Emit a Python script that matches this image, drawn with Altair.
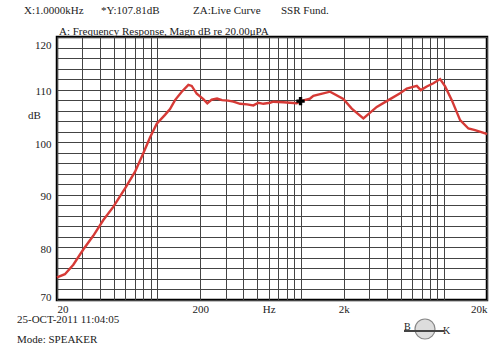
import altair as alt
import pandas as pd

# Frequency response
freq_hz = [20, 22.7, 26.0, 30.5, 35.8, 42.1, 49.4, 60.6, 70.1, 80.0, 89.1, 99.3,
           113.4, 122.9, 133.2, 148.4, 165.0, 174.2, 188.8, 209.9, 223.8, 240.2,
           261.7, 283.5, 312.2, 339.9, 378.5, 423.6, 468.9, 507.9, 550.4, 613,
           646, 759, 845, 941, 1000, 1166, 1229, 1607, 1990, 2278, 2746, 3404,
           4102, 4950, 5512, 6474, 6902, 7602, 8453, 9415, 10204, 11362, 12984,
           14836, 16520, 19398, 20000]
magn_db = [74.3, 74.9, 76.7, 79.6, 82.2, 85.2, 87.7, 91.5, 94.4, 97.9, 100.9, 103.5,
           105.2, 106.3, 108.0, 109.6, 110.9, 110.7, 109.2, 108.2, 107.4, 108.1,
           108.3, 108.0, 107.9, 107.7, 107.3, 107.2, 107.0, 107.5, 107.3, 107.5,
           107.7, 107.6, 107.5, 107.4, 107.8, 108.3, 108.8, 109.6, 108.2, 106.4,
           104.5, 106.7, 108.0, 109.3, 110.2, 110.7, 109.9, 110.6, 111.2, 112.0,
           110.6, 108.0, 104.2, 102.6, 102.3, 101.7, 101.5]

cursor_hz = [1000]
cursor_db = [107.81]

x_grid = [20, 30, 40, 50, 60, 70, 80, 90, 100, 200, 300, 400, 500, 600, 700, 800,
          900, 1000, 2000, 3000, 4000, 5000, 6000, 7000, 8000, 9000, 10000, 20000]
y_grid = list(range(70, 121, 2))
x_labels = {20: "20", 200: "200", 600: "Hz", 2000: "2k", 20000: "20k"}

FONT = "Liberation Serif"
TXT = "#222222"

df = pd.DataFrame({"f": freq_hz, "db": magn_db})
cur = pd.DataFrame({"f": cursor_hz, "db": cursor_db})

label_expr = " : ".join(
    [f"datum.value == {k} ? '{v}'" for k, v in x_labels.items()]) + " : ''"

xs = alt.Scale(type="log", domain=[20, 20000], nice=False)
ys = alt.Scale(domain=[70, 120], nice=False, zero=False)

xax = alt.Axis(values=x_grid, labelExpr=label_expr, grid=True, gridColor="#444444",
               gridWidth=1, domain=False, ticks=False, labelPadding=3,
               labelFont=FONT, labelFontSize=11, labelColor=TXT, title=None,
               labelFlush=True, labelOverlap=False)
yax = alt.Axis(values=y_grid, labelExpr="datum.value % 10 == 0 ? '' + datum.value : ''",
               grid=True, gridColor="#444444", gridWidth=1, domain=False,
               ticks=False, labelPadding=6, labelFont=FONT, labelFontSize=11,
               labelColor=TXT, title=None, labelFlush=True, labelOffset=2,
               labelOverlap=False)

line = alt.Chart(df).mark_line(color="#d63a36", strokeWidth=2.4).encode(
    x=alt.X("f:Q", scale=xs, axis=xax),
    y=alt.Y("db:Q", scale=ys, axis=yax),
)

cross = alt.Chart(cur).mark_point(shape="cross", filled=True, color="black",
                                  size=70, opacity=1).encode(
    x=alt.X("f:Q", scale=xs, axis=xax), y=alt.Y("db:Q", scale=ys, axis=yax))

one = pd.DataFrame({"a": [0]})


def txt(s, x, y, align="left", size=11):
    return alt.Chart(one).mark_text(font=FONT, fontSize=size, color=TXT,
                                    align=align, baseline="middle").encode(
        x=alt.value(x), y=alt.value(y), text=alt.value(s))


ox, oy = 57, 37
texts = [
    txt("X:1.0000kHz", 24 - ox, 11 - oy),
    txt("*Y:107.81dB", 101 - ox, 11 - oy),
    txt("ZA:Live Curve", 193 - ox, 11 - oy),
    txt("SSR Fund.", 281 - ox, 11 - oy),
    txt("A: Frequency Response, Magn dB re 20.00\u03bcPA", 59 - ox, 32 - oy),
    txt("dB", 28 - ox, 116 - oy),
    txt("25-OCT-2011 11:04:05", 17 - ox, 320 - oy),
    txt("Mode: SPEAKER", 17 - ox, 340 - oy),
]

logo_circle = alt.Chart(one).mark_point(shape="circle", filled=True,
                                        color="#dddddd", size=400, opacity=1,
                                        stroke="#888888", strokeWidth=1.2).encode(
    x=alt.value(425 - ox), y=alt.value(329 - oy))
logo_bar = alt.Chart(one).mark_rule(color="#444444", strokeWidth=2).encode(
    x=alt.value(404 - ox), x2=alt.value(444 - ox), y=alt.value(331 - oy))
logo_b = txt("B", 404 - ox, 327 - oy, size=10)
logo_k = txt("K", 443 - ox, 331 - oy, size=10)

chart = alt.layer(line, cross, *texts, logo_circle, logo_bar, logo_b, logo_k).properties(
    width=430, height=263,
    padding={"left": 57, "top": 37, "right": 13, "bottom": 51},
    autosize=alt.AutoSizeParams(type="none"),
    background="white",
).configure_view(stroke="black", strokeWidth=2.5)

chart.save("out.html", embed_options={"renderer": "svg", "actions": False})
